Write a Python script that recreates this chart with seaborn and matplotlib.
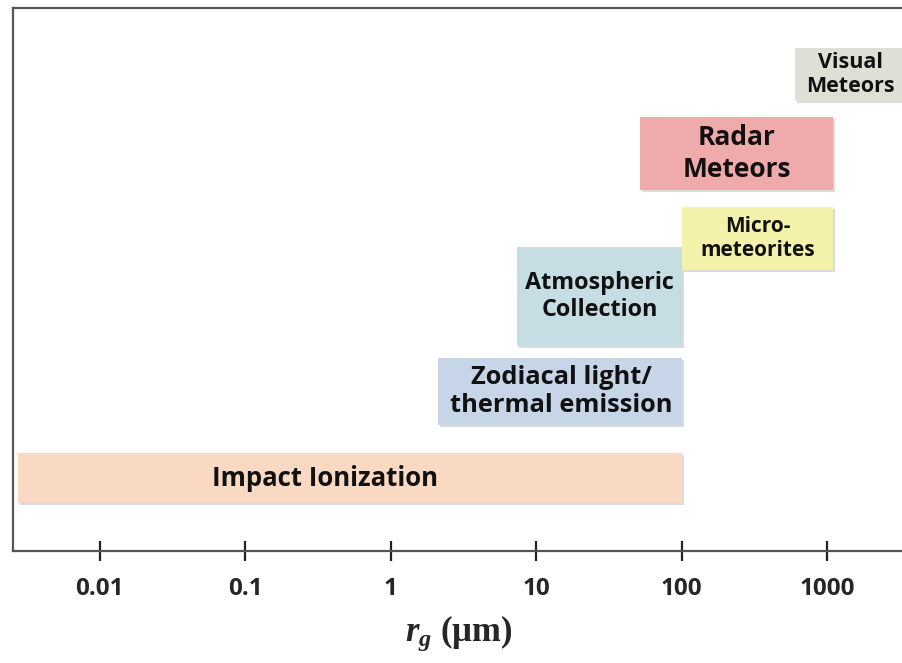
import matplotlib
matplotlib.use("Agg")
import matplotlib.pyplot as plt
import matplotlib.patheffects as pe
from matplotlib.ticker import FixedLocator, FixedFormatter, NullLocator
import numpy as np
import seaborn as sns

# Size ranges (grain radius, µm) covered by each detection technique
techniques = ["Impact Ionization", "Zodiacal light/\nthermal emission",
              "Atmospheric\nCollection", "Micro-\nmeteorites",
              "Radar\nMeteors", "Visual\nMeteors"]
r_min = [0.00275, 2.1, 7.4, 100, 52, 600]
r_max = [100, 100, 100, 1100, 1100, 5000]
colors = ["#F9D9C1", "#C6D5E7", "#C5DDE3", "#F4F1AA", "#EFAAAC", "#DDE1D5"]

tick_values = [0.01, 0.1, 1, 10, 100, 1000]
tick_labels = ["0.01", "0.1", "1", "10", "100", "1000"]

# Vertical layout of the bands (centre, height) in axis units
row_center = [73, 159.5, 254.5, 312.5, 397.5, 476.5]
row_height = [50, 67, 99, 63, 73, 53]
label_size = [18.5, 18.3, 16.8, 15, 19, 15.5]
label_dx = [-18, 1, 0, 0, 0, 1]   # horizontal nudge of each label, points

sns.set_theme(style="white")
plt.rcParams["font.family"] = ["Open Sans", "DejaVu Sans"]
plt.rcParams["mathtext.fontset"] = "custom"
plt.rcParams["mathtext.it"] = "Liberation Serif:italic:bold"
plt.rcParams["mathtext.rm"] = "Liberation Serif:bold"

fig = plt.figure(figsize=(9.03, 6.63), dpi=100)
ax = fig.add_axes([13 / 903, 112 / 663, 1 - 13 / 903 + 0.002, 543 / 663])

ax.set_xscale("log")
xlo, xhi = 0.00254, 3412
ax.set_xlim(xlo, xhi)
ax.set_ylim(0, 543)

shadow = [pe.SimplePatchShadow(offset=(1.5, -1.5), shadow_rgbFace="#999999", alpha=0.35),
          pe.Normal()]

for lab, lo, hi, c, yc, h, fs, dx in zip(techniques, r_min, r_max, colors,
                                         row_center, row_height, label_size,
                                         label_dx):
    bars = ax.barh(yc, hi - lo, left=lo, height=h, color=c, edgecolor="none",
                   zorder=2)
    for b in bars:
        b.set_path_effects(shadow)
    xc = np.sqrt(lo * min(hi, xhi * 0.98))
    ax.annotate(lab, (xc, yc), xytext=(dx, 0), textcoords="offset points",
                ha="center", va="center", fontsize=fs, fontweight="bold",
                color="#111111", linespacing=1.2, zorder=3)

ax.xaxis.set_major_locator(FixedLocator(tick_values))
ax.xaxis.set_major_formatter(FixedFormatter(tick_labels))
ax.xaxis.set_minor_locator(NullLocator())
ax.set_yticks([])
ax.tick_params(axis="x", which="major", direction="inout", length=15,
               width=1.6, color="#222222", pad=11, labelsize=17.5,
               bottom=True)
for t in ax.get_xticklabels():
    t.set_fontweight("bold")

for side in ["left", "top", "bottom"]:
    ax.spines[side].set_color("#555555")
    ax.spines[side].set_linewidth(1.6)
ax.spines["right"].set_visible(False)

ax.set_xlabel(r"$r_g$ (μm)", fontsize=25, fontfamily="Liberation Serif",
              fontweight="bold", labelpad=9)

fig.savefig("out.png", dpi=100)
